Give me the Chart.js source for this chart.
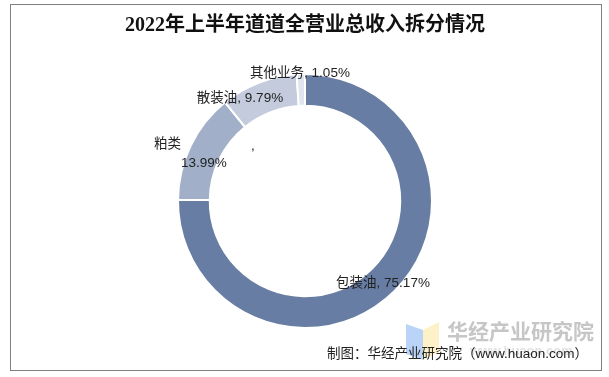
<!DOCTYPE html>
<html>
<head>
<meta charset="utf-8">
<script src="https://cdn.jsdelivr.net/npm/chart.js@4.4.0/dist/chart.umd.min.js"></script>
<style>
    html, body { margin: 0; padding: 0; background: #fff; }
    #wrap { position: relative; width: 609px; height: 377px; }
</style>
</head>
<body>
<div id="wrap"><canvas id="revenueChart" width="609" height="377"></canvas></div>
<script>
const categories = ['包装油', '粕类', '散装油', '其他业务'];
const shares = [75.17, 13.99, 9.79, 1.05];
const sliceColors = ['#677da3', '#a1afc8', '#c4cbdd', '#dfe4ee'];

const titleText = '2022年上半年道道全营业总收入拆分情况';
const sourceText = '制图：华经产业研究院（www.huaon.com）';
const CJK = '"Noto Sans CJK SC", sans-serif';
const LABEL_FONT = '13.5px "Liberation Sans", ' + CJK;

// Frame, title, labels and watermark
const decorPlugin = {
    id: 'decor',
    afterDraw(chart) {
        const ctx = chart.ctx;
        const pct = i => shares[i].toFixed(2) + '%';
        ctx.save();

        // outer frame
        ctx.strokeStyle = '#808080';
        ctx.lineWidth = 1;
        ctx.strokeRect(10.5, 4.5, 591, 366);

        // title
        ctx.fillStyle = '#111';
        ctx.font = 'bold 20px "Liberation Serif", ' + CJK;
        ctx.textAlign = 'center';
        ctx.textBaseline = 'middle';
        ctx.fillText(titleText, 305, 26);

        // slice labels
        ctx.font = LABEL_FONT;
        ctx.fillStyle = '#222';
        ctx.fillText(categories[0] + ', ' + pct(0), 383, 283);
        ctx.fillText(categories[2] + ', ' + pct(2), 240, 98);
        ctx.fillText(categories[3] + ', ' + pct(3), 300, 73);
        ctx.textAlign = 'left';
        ctx.fillText(categories[1], 154, 144);
        ctx.fillText(pct(1), 181, 163);
        ctx.fillText(',', 251, 146);

        // watermark logo
        ctx.globalAlpha = 0.55;
        ctx.fillStyle = '#7fb0ee';
        ctx.beginPath();
        ctx.moveTo(406, 324); ctx.lineTo(423, 330); ctx.lineTo(423, 360); ctx.lineTo(406, 354);
        ctx.closePath(); ctx.fill();
        ctx.fillStyle = '#fbe59a';
        ctx.beginPath();
        ctx.moveTo(423, 330); ctx.lineTo(439, 322); ctx.lineTo(439, 352); ctx.lineTo(423, 360);
        ctx.closePath(); ctx.fill();
        ctx.globalAlpha = 1;

        ctx.fillStyle = '#c6c6c6';
        ctx.font = 'bold 21px ' + CJK;
        ctx.textAlign = 'left';
        ctx.fillText('华经产业研究院', 447, 331);
        ctx.fillStyle = '#e2e2e2';
        ctx.font = 'bold 13px "Liberation Sans", sans-serif';
        ctx.fillText('www.huaon.com', 470, 351);

        // source note
        ctx.fillStyle = '#222';
        ctx.font = '13.5px "Liberation Sans", ' + CJK;
        ctx.textAlign = 'right';
        ctx.fillText(sourceText, 588, 354);

        ctx.restore();
    }
};

new Chart(document.getElementById('revenueChart'), {
    type: 'doughnut',
    data: {
        labels: categories,
        datasets: [{
            data: shares,
            backgroundColor: sliceColors,
            borderColor: '#ffffff',
            borderWidth: 2,
            hoverOffset: 0
        }]
    },
    options: {
        responsive: false,
        animation: false,
        cutout: '75%',
        rotation: 0,
        layout: {
            padding: { left: 177, right: 176, top: 73, bottom: 48 }
        },
        plugins: {
            legend: { display: false },
            tooltip: { enabled: false },
            title: { display: false }
        }
    },
    plugins: [decorPlugin]
});
</script>
</body>
</html>
